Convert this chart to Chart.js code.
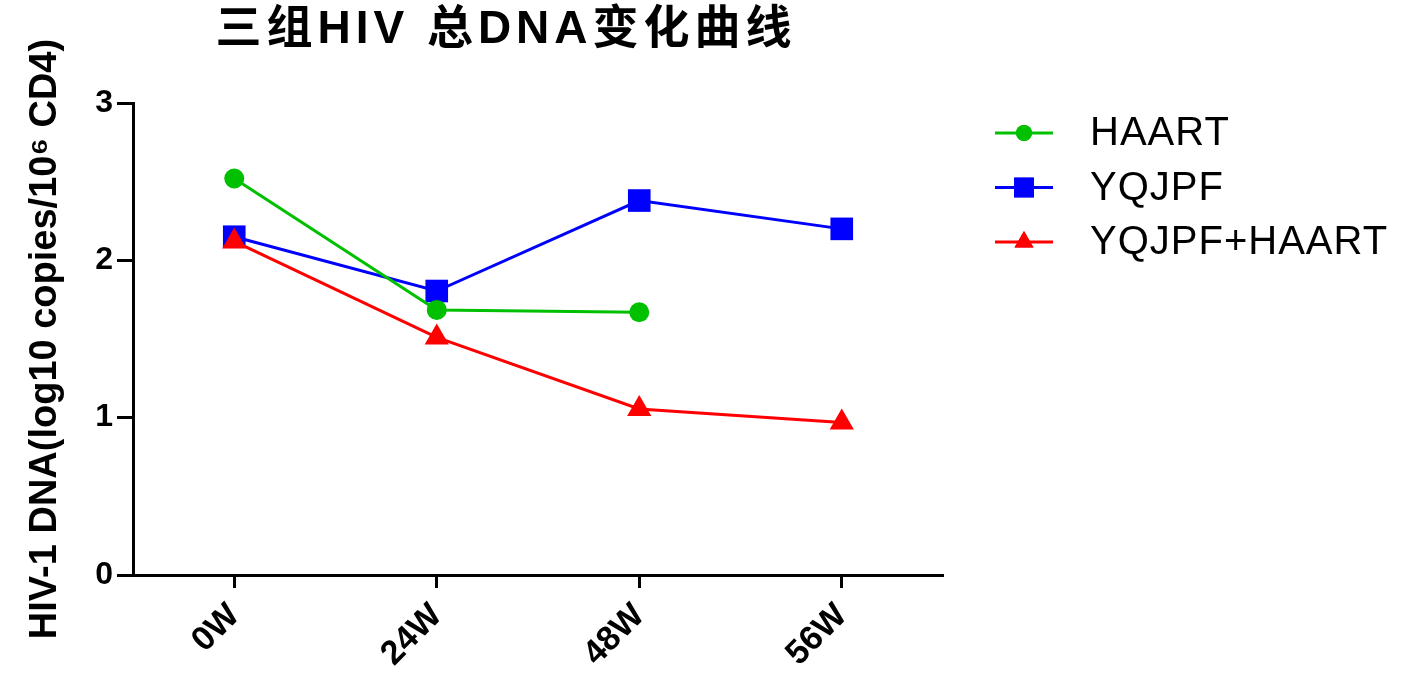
<!DOCTYPE html>
<html lang="zh">
  <head>
    <meta charset="UTF-8" />
    <title>三组HIV 总DNA变化曲线</title>
    <style>
      body { margin: 0; background: #fff; }
    </style>
  </head>
  <script src="https://cdn.jsdelivr.net/npm/chart.js@4"></script>
  <body>
    <canvas id="dnaChart" width="1418" height="676"></canvas>

    <script>
      // data
      const categories = ["0W", "24W", "48W", "56W"];
      const haart = [2.52, 1.685, 1.67, null];
      const yqjpf = [2.15, 1.805, 2.38, 2.2];
      const yqjpfHaart = [2.12, 1.51, 1.055, 0.97];
      const yTicks = [0, 1, 2, 3];

      const titleText = "三组HIV 总DNA变化曲线";
      const yTitle = "HIV-1 DNA(log10 copies/10⁶ CD4)";

      const fontFamily = "'Liberation Sans', Arial, 'Noto Sans CJK SC', sans-serif";

      // title + legend drawn by hand, legend has line through marker
      const extras = {
        id: "extras",
        afterDraw(chart) {
          const ctx = chart.ctx;
          ctx.save();
          ctx.fillStyle = "#000";
          ctx.font = "bold 46px " + fontFamily;
          ctx.textAlign = "center";
          ctx.textBaseline = "middle";
          ctx.letterSpacing = "5px";
          ctx.fillText(titleText, 506, 30);
          ctx.letterSpacing = "0px";

          chart.data.datasets.forEach((ds, i) => {
            const y = 133 + i * 54.5;
            ctx.strokeStyle = ds.borderColor;
            ctx.lineWidth = 3;
            ctx.beginPath();
            ctx.moveTo(995, y);
            ctx.lineTo(1053, y);
            ctx.stroke();
            ctx.fillStyle = ds.borderColor;
            Chart.helpers.drawPoint(
              ctx,
              { pointStyle: ds.pointStyle, radius: ds.legendRadius, rotation: 0, borderWidth: 0 },
              1024,
              y
            );
            ctx.fill();
            ctx.fillStyle = "#000";
            ctx.font = "40px " + fontFamily;
            ctx.textAlign = "left";
            ctx.letterSpacing = "1px";
            ctx.fillText(ds.label, 1090, y + 1);
            ctx.letterSpacing = "0px";
          });
          ctx.restore();
        },
      };

      const data = {
        labels: categories,
        datasets: [
          {
            label: "HAART",
            data: haart,
            borderColor: "#00c000",
            backgroundColor: "#00c000",
            pointStyle: "circle",
            pointRadius: 10,
            legendRadius: 8,
            order: 2,
          },
          {
            label: "YQJPF",
            data: yqjpf,
            borderColor: "#0000ff",
            backgroundColor: "#0000ff",
            pointStyle: "rect",
            pointRadius: 16,
            legendRadius: 14,
            order: 3,
          },
          {
            label: "YQJPF+HAART",
            data: yqjpfHaart,
            borderColor: "#ff0000",
            backgroundColor: "#ff0000",
            pointStyle: "triangle",
            pointRadius: 14,
            legendRadius: 11,
            order: 1,
          },
        ],
      };

      new Chart(document.getElementById("dnaChart"), {
        type: "line",
        data: data,
        options: {
          responsive: false,
          animation: false,
          elements: {
            line: { borderWidth: 3, tension: 0 },
            point: { borderWidth: 0, hoverRadius: 10 },
          },
          layout: { padding: { left: 0, right: 475, top: 103, bottom: 0 } },
          plugins: {
            legend: { display: false },
            title: { display: false },
            tooltip: { enabled: false },
          },
          scales: {
            x: {
              offset: true,
              afterFit: (s) => { s.height = 101; },
              grid: {
                offset: false,
                drawOnChartArea: false,
                tickLength: 13,
                tickWidth: 3,
                color: "#000",
              },
              border: { color: "#000", width: 3 },
              ticks: {
                color: "#000",
                maxRotation: 45,
                minRotation: 45,
                padding: 8,
                font: { family: fontFamily, size: 34, weight: "bold" },
              },
            },
            y: {
              min: 0,
              max: 3,
              afterFit: (s) => { s.width = 133; },
              afterBuildTicks: (s) => { s.ticks = yTicks.map((v) => ({ value: v })); },
              grid: {
                drawOnChartArea: false,
                tickLength: 16,
                tickWidth: 3,
                color: "#000",
              },
              border: { color: "#000", width: 3 },
              ticks: {
                color: "#000",
                padding: 4,
                font: { family: fontFamily, size: 32, weight: "bold" },
              },
              title: {
                display: true,
                text: yTitle,
                color: "#000",
                padding: { top: 23, bottom: 0 },
                font: { family: fontFamily, size: 38, weight: "bold" },
              },
            },
          },
        },
        plugins: [extras],
      });
    </script>
  </body>
</html>
